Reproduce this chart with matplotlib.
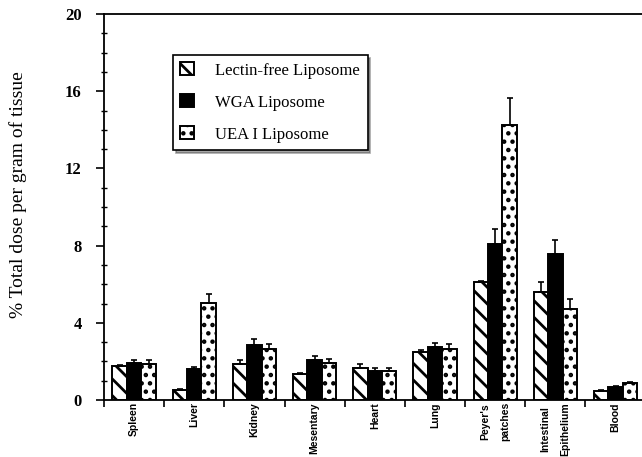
import numpy as np
import matplotlib
matplotlib.use('Agg')
import matplotlib.pyplot as plt
from matplotlib.ticker import MultipleLocator, FixedLocator

# Dados
tecidos = ['Spleen', 'Liver', 'Kidney', 'Mesentary', 'Heart', 'Lung',
           "Peyer's\npatches", 'Intestinal\nEpithelium', 'Blood']
series = ['Lectin-free Liposome', 'WGA Liposome', 'UEA I Liposome']

lectin_free = [1.76, 0.52, 1.85, 1.35, 1.68, 2.50, 6.10, 5.58, 0.48]
lectin_free_err = [0.08, 0.03, 0.20, 0.06, 0.17, 0.10, 0.05, 0.55, 0.03]
wga = [1.93, 1.59, 2.85, 2.07, 1.50, 2.73, 8.08, 7.56, 0.69]
wga_err = [0.15, 0.14, 0.33, 0.22, 0.14, 0.20, 0.80, 0.73, 0.05]
uea = [1.85, 5.01, 2.64, 1.93, 1.50, 2.66, 14.25, 4.71, 0.86]
uea_err = [0.20, 0.50, 0.26, 0.17, 0.14, 0.25, 1.40, 0.50, 0.05]

plt.rcParams['font.family'] = ['Liberation Serif', 'DejaVu Serif']
plt.rcParams['hatch.linewidth'] = 2.0

fig = plt.figure(figsize=(6.42, 4.57), dpi=100)
ax = fig.add_axes([0.162, 0.1247, 0.838, 0.8446])

x = np.arange(len(tecidos)) + 0.5
w = 0.24
estilos = [
    dict(facecolor='white', hatch='\\\\'),
    dict(facecolor='black'),
    dict(facecolor='white', hatch='..'),
]
dados = [(lectin_free, lectin_free_err), (wga, wga_err), (uea, uea_err)]
for k, ((vals, errs), nome, est) in enumerate(zip(dados, series, estilos)):
    pos = x + (k - 1) * w
    ax.bar(pos, vals, w, edgecolor='black', linewidth=1.4, label=nome, **est)
    ax.errorbar(pos, vals, yerr=[np.zeros(len(errs)), errs], fmt='none',
                ecolor='black', elinewidth=1.2, capsize=2, capthick=1.2)

ax.set_xlim(0, 8.94)
ax.set_ylim(0, 20)
ax.spines['right'].set_visible(False)
for s in ['left', 'bottom', 'top']:
    ax.spines[s].set_linewidth(1.3)

ax.yaxis.set_major_locator(MultipleLocator(4))
ax.yaxis.set_minor_locator(MultipleLocator(1))
ax.tick_params(axis='y', which='major', direction='out', length=6, width=1.2,
               labelsize=12, pad=10)
ax.tick_params(axis='y', which='minor', direction='inout', length=4, width=1)
for t in ax.get_yticklabels():
    t.set_fontweight('bold')

ax.xaxis.set_major_locator(FixedLocator(np.arange(0, 9)))
ax.xaxis.set_minor_locator(FixedLocator(x))
ax.set_xticklabels([])
ax.set_xticklabels(tecidos, minor=True, rotation=90, fontweight='bold',
                   fontsize=7.5, va='top', ha='center', linespacing=2.2,
                   family='Liberation Sans')
ax.tick_params(axis='x', which='major', direction='out', length=5, width=1.2)
ax.tick_params(axis='x', which='minor', length=0, pad=1.5)

ax.set_ylabel('% Total dose per gram of tissue', fontsize=14)
ax.yaxis.set_label_coords(-0.143, 0.531)

leg = ax.legend(loc='upper left', bbox_to_anchor=(0.128, 0.894), fontsize=12,
                frameon=True, fancybox=False, shadow=True, handlelength=0.8,
                handleheight=0.8, labelspacing=0.95, borderpad=0.45,
                handletextpad=1.3, borderaxespad=0)
leg.get_frame().set_edgecolor('black')
leg.get_frame().set_linewidth(1.2)

fig.savefig('out.png', dpi=100)
